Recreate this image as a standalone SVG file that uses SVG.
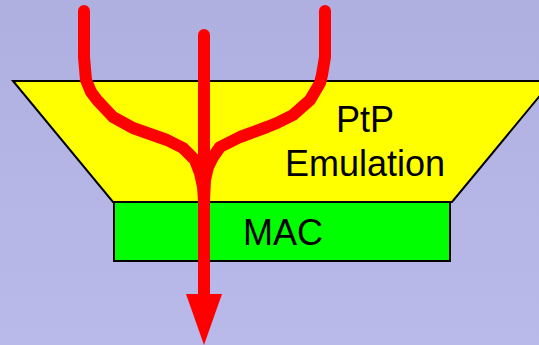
<svg xmlns="http://www.w3.org/2000/svg" width="539" height="345" viewBox="0 0 539 345">
  <defs>
    <linearGradient id="bg" x1="0" y1="0" x2="0" y2="1">
      <stop offset="0" stop-color="#b0b0e0"/>
      <stop offset="1" stop-color="#b9b9ea"/>
    </linearGradient>
  </defs>
  <style>
    .shape { stroke: #000; stroke-width: 2; stroke-linejoin: miter; }
    .label { font-family: "Liberation Sans", Arial, sans-serif; font-size: 36px; fill: #000; text-anchor: middle; }
    .flow { fill: none; stroke: #ff0000; stroke-width: 12; stroke-linecap: round; stroke-linejoin: round; }
    .head { fill: #ff0000; stroke: none; }
  </style>
  <rect x="0" y="0" width="539" height="345" fill="url(#bg)"/>
  <g id="ptp-emulation">
    <polygon class="shape" fill="#ffff00" points="13,81 552,81 452,202 113,202"/>
    <text class="label" x="365" y="132">PtP</text>
    <text class="label" x="365" y="176">Emulation</text>
  </g>
  <g id="mac">
    <rect class="shape" fill="#00ff00" x="114" y="202" width="336" height="59"/>
    <text class="label" x="283" y="245">MAC</text>
  </g>
  <g id="connectors">
    <polyline class="flow" points="84,11 84,57 86,80 91,92 97,100 113,117 133,128 167,140 183,148 195,160 200,173 203,187 204,200"/>
    <polyline class="flow" points="325,11 325,57 322,75 320,83 310,100 293,115 277,123 267,127 240,137 220,147 213,157 208,167 205,180 204,200"/>
    <line class="flow" x1="204" y1="35" x2="204" y2="296"/>
    <polygon class="head" points="186,294 222,294 204,345"/>
  </g>
</svg>
